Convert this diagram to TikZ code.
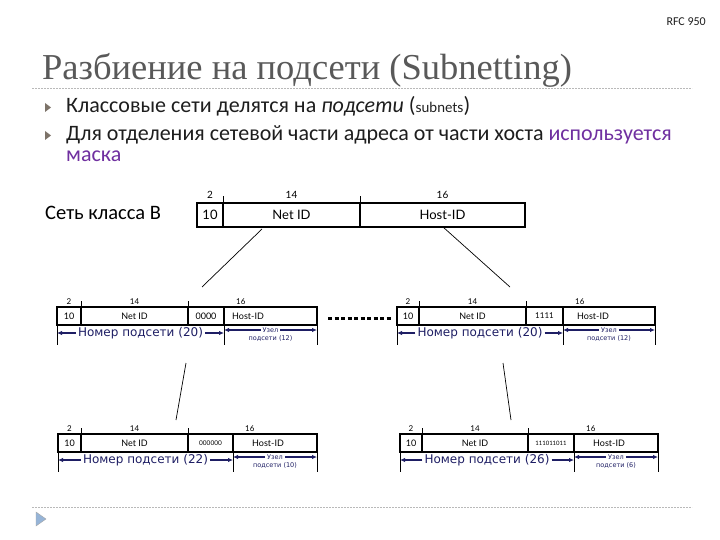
\documentclass[tikz,border=0pt]{standalone}
\usepackage{fontspec}
\setmainfont{Carlito}
\newfontfamily\titlefont{Liberation Serif}
\newfontfamily\diagfont{Lato}
\newfontfamily\notefont{DejaVu Sans}
\usetikzlibrary{positioning,calc,arrows.meta}
\definecolor{titlegray}{RGB}{89,89,89}
\definecolor{textgray}{RGB}{30,30,30}
\definecolor{maskpurple}{RGB}{112,48,160}
\definecolor{dimblue}{RGB}{30,30,100}
\definecolor{bulletgray}{RGB}{125,115,105}
\definecolor{footblue}{RGB}{150,180,215}

\begin{document}
\begin{tikzpicture}[x=1pt, y=-1pt,
    field/.style={draw, line width=1.5pt, inner sep=0pt, outer sep=0pt,
                  anchor=north west, minimum height=18pt,
                  font=\diagfont\fontsize{9}{10}\selectfont},
    bigfield/.style={field, minimum height=24pt,
                     font=\diagfont\fontsize{13}{15}\selectfont},
    fieldtext/.style={inner sep=0pt, font=\diagfont\fontsize{9}{10}\selectfont},
    bits/.style={inner sep=0pt, font=\diagfont\fontsize{8}{9}\selectfont},
    numtext/.style={inner sep=2pt, text=dimblue,
                    font=\notefont\fontsize{12}{14}\selectfont},
    hosttext/.style={inner sep=2pt, text=dimblue,
                     font=\notefont\fontsize{6.5}{7.5}\selectfont},
    dim/.style={-{Latex[length=5pt,width=4.5pt]}, line width=1.1pt, dimblue},
    tick/.style={line width=0.6pt},
    link/.style={line width=0.7pt},
    rule/.style={gray!55, line width=0.8pt, dash pattern=on 2pt off 1pt},
    bullet/.style={anchor=base west, inner sep=0pt, text=textgray,
                   font=\fontsize{22}{22}\selectfont}]
\path[fill=white, use as bounding box] (0,0) rectangle (720,540);

% header
\node[anchor=base east, inner sep=0pt, text=textgray,
      font=\fontsize{12}{14}\selectfont] (rfc) at (706,26) {RFC 950};
\node[anchor=base west, inner sep=0pt, text=titlegray,
      font=\titlefont\fontsize{36.5}{40}\selectfont] (title) at (42,80)
  {Разбиение на подсети (Subnetting)};
\draw[rule] (32,88) -- (692,88);
\fill[bulletgray] (45,103) -- (51,107.5) -- (45,112) -- cycle;
\fill[bulletgray] (45,131) -- (51,135.5) -- (45,140) -- cycle;
\node[bullet] (item1) at (66,113)
  {Классовые сети делятся на \textit{подсети}
   ({\diagfont\fontsize{14}{16}\selectfont subnets})};
\node[bullet] (item2) at (66,141)
  {Для отделения сетевой части адреса от части хоста
   \textcolor{maskpurple}{используется}};
\node[bullet, text=maskpurple] (item2b) at (66,162) {маска};

% class B address
\node[anchor=base west, inner sep=0pt, font=\fontsize{20.5}{22}\selectfont]
  (classB) at (45,219) {Сеть класса B};
\node[bigfield, minimum width=26pt] (m1) at (197,203) {10};
\node[bigfield, minimum width=137pt] (m2) at (m1.north east) {Net ID};
\node[bigfield, minimum width=165pt] (m3) at (m2.north east) {Host-ID};
\node[bits, font=\diagfont\fontsize{10}{11}\selectfont, above=4pt of m1.north] (m1bits) {2};
\node[bits, font=\diagfont\fontsize{10}{11}\selectfont, above=4pt of m2.north] (m2bits) {14};
\node[bits, font=\diagfont\fontsize{10}{11}\selectfont, above=4pt of m3.north] (m3bits) {16};
\draw[tick] (m2.north west) -- ++(0,-7) (m3.north west) -- ++(0,-7);

% subnetted addresses
\foreach \rw/\x/\y/\fa/\fb/\fc/\fd/\bitsval/\nnum/\nhost/\hoff in
  {b/57/307/24/107/36/93/0000/20/12/8,
   c/397/307/22/107/37/92/{\fontsize{8}{9}\selectfont 1111}/20/12/14,
   d/58/434/23/107/45/84/{\fontsize{6.5}{8}\selectfont 000000}/22/10/19,
   e/400/434/22/106/46/84/{\fontsize{6}{7}\selectfont 111011011}/26/6/19}{
  \node[field, minimum width=\fa pt] (\rw1) at (\x,\y) {10};
  \node[field, minimum width=\fb pt] (\rw2) at (\rw1.north east) {Net ID};
  \node[field, minimum width=\fc pt] (\rw3) at (\rw2.north east) {\bitsval};
  \node[field, minimum width=\fd pt] (\rw4) at (\rw3.north east) {};
  \node[fieldtext, right=\hoff pt of \rw4.west] (\rw host) {Host-ID};
  \node[bits, above=2pt of \rw1.north] (\rw1bits) {2};
  \node[bits, above=2pt of \rw2.north] (\rw2bits) {14};
  \node[bits, above right=2pt and 12pt of \rw4.north west] (\rw4bits) {16};
  \draw[tick] (\rw2.north west) -- ++(0,-6) (\rw3.north west) -- ++(0,-6);
  \draw[tick] (\rw1.south west) -- ++(0,20) (\rw4.south west) -- ++(0,20)
              (\rw4.south east) -- ++(0,20);
  \node[numtext] (\rw num) at ($(\rw1.south west)!0.5!(\rw4.south west)+(0,8)$)
    {Номер подсети (\nnum)};
  \draw[dim] (\rw num.west) -- (\rw num.west -| \rw1.west);
  \draw[dim] (\rw num.east) -- (\rw num.east -| \rw4.west);
  \node[hosttext] (\rw unit) at ($(\rw4.south west)!0.5!(\rw4.south east)+(0,5)$) {Узел};
  \node[hosttext, below=-1pt of \rw unit] (\rw sub) {подсети (\nhost)};
  \draw[dim] (\rw unit.west) -- (\rw unit.west -| \rw4.west);
  \draw[dim] (\rw unit.east) -- (\rw unit.east -| \rw4.east);
}

% links between the levels
\draw[link] ($(m2.south west)+(39,2)$) -- ($(b3.north west)+(14,-20)$);
\draw[link] ($(m3.south west)+(83,0)$) -- ($(c3.north west)+(-16,-20)$);
\draw[link] ($(b3.south west)+(-2,38)$) -- ($(d3.north west)+(-12,-14)$);
\draw[link] ($(c3.south west)+(-23,38)$) -- ($(e3.north west)+(-17,-14)$);
\draw[line width=3pt, dash pattern=on 4pt off 2.5pt]
  ($(b4.east)+(11,2)$) -- ($(c1.west)+(-5,2)$);

% footer
\draw[rule] (32,507) -- (692,507);
\fill[footblue, draw=gray!70, line width=0.4pt] (36,512) -- (46,519) -- (36,526) -- cycle;
\end{tikzpicture}
\end{document}
